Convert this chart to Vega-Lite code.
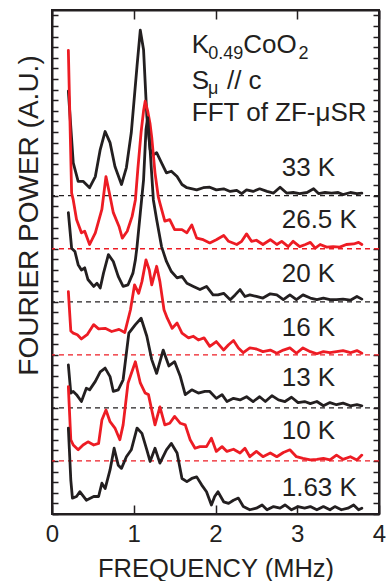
{
  "$schema": "https://vega.github.io/schema/vega-lite/v6.json",
  "width": 327,
  "height": 504,
  "autosize": {"type": "none"},
  "padding": {"left": 52, "top": 10, "right": 7, "bottom": 67},
  "config": {
    "view": {"stroke": "#231f20", "strokeWidth": 2},
    "font": "Liberation Sans",
    "axis": {
      "grid": false,
      "domainColor": "#231f20",
      "domainWidth": 2,
      "tickColor": "#231f20",
      "tickWidth": 1.5,
      "labelFont": "Liberation Sans",
      "labelFontSize": 24,
      "labelColor": "#231f20",
      "titleFont": "Liberation Sans",
      "titleFontSize": 25.5,
      "titleFontWeight": "normal",
      "titleColor": "#231f20"
    }
  },
  "datasets": {
    "curves": [
      {"t":"33 K","f":0.20,"p":7.97},{"t":"33 K","f":0.26,"p":6.62},{"t":"33 K","f":0.32,"p":6.27},{"t":"33 K","f":0.38,"p":6.27},{"t":"33 K","f":0.42,"p":6.21},{"t":"33 K","f":0.46,"p":6.15},{"t":"33 K","f":0.53,"p":6.36},{"t":"33 K","f":0.59,"p":6.87},{"t":"33 K","f":0.65,"p":7.21},{"t":"33 K","f":0.71,"p":7.00},{"t":"33 K","f":0.77,"p":6.55},{"t":"33 K","f":0.85,"p":6.21},{"t":"33 K","f":0.91,"p":6.53},{"t":"33 K","f":0.97,"p":7.19},{"t":"33 K","f":1.04,"p":8.44},{"t":"33 K","f":1.08,"p":9.12},{"t":"33 K","f":1.12,"p":8.75},{"t":"33 K","f":1.16,"p":7.50},{"t":"33 K","f":1.20,"p":6.87},{"t":"33 K","f":1.24,"p":6.77},{"t":"33 K","f":1.28,"p":6.81},{"t":"33 K","f":1.34,"p":6.62},{"t":"33 K","f":1.40,"p":6.43},{"t":"33 K","f":1.46,"p":6.46},{"t":"33 K","f":1.53,"p":6.36},{"t":"33 K","f":1.59,"p":6.21},{"t":"33 K","f":1.65,"p":6.15},{"t":"33 K","f":1.77,"p":6.11},{"t":"33 K","f":1.85,"p":6.15},{"t":"33 K","f":1.93,"p":6.16},{"t":"33 K","f":2.01,"p":6.11},{"t":"33 K","f":2.10,"p":6.13},{"t":"33 K","f":2.18,"p":6.08},{"t":"33 K","f":2.26,"p":6.10},{"t":"33 K","f":2.32,"p":6.04},{"t":"33 K","f":2.38,"p":6.11},{"t":"33 K","f":2.46,"p":6.08},{"t":"33 K","f":2.54,"p":6.13},{"t":"33 K","f":2.63,"p":6.08},{"t":"33 K","f":2.71,"p":6.05},{"t":"33 K","f":2.79,"p":6.16},{"t":"33 K","f":2.87,"p":6.05},{"t":"33 K","f":2.95,"p":6.06},{"t":"33 K","f":3.03,"p":6.04},{"t":"33 K","f":3.12,"p":6.06},{"t":"33 K","f":3.20,"p":6.13},{"t":"33 K","f":3.26,"p":6.04},{"t":"33 K","f":3.34,"p":6.06},{"t":"33 K","f":3.42,"p":6.05},{"t":"33 K","f":3.50,"p":6.06},{"t":"33 K","f":3.56,"p":6.02},{"t":"33 K","f":3.65,"p":6.06},{"t":"33 K","f":3.73,"p":6.04},{"t":"33 K","f":3.79,"p":6.05},
      {"t":"26.5 K","f":0.20,"p":8.74},{"t":"26.5 K","f":0.24,"p":6.05},{"t":"26.5 K","f":0.26,"p":5.92},{"t":"26.5 K","f":0.30,"p":5.55},{"t":"26.5 K","f":0.36,"p":5.30},{"t":"26.5 K","f":0.40,"p":5.33},{"t":"26.5 K","f":0.46,"p":5.08},{"t":"26.5 K","f":0.53,"p":5.30},{"t":"26.5 K","f":0.61,"p":5.74},{"t":"26.5 K","f":0.66,"p":6.36},{"t":"26.5 K","f":0.71,"p":5.99},{"t":"26.5 K","f":0.75,"p":5.68},{"t":"26.5 K","f":0.82,"p":5.42},{"t":"26.5 K","f":0.86,"p":5.20},{"t":"26.5 K","f":0.92,"p":5.33},{"t":"26.5 K","f":0.98,"p":5.61},{"t":"26.5 K","f":1.02,"p":5.92},{"t":"26.5 K","f":1.05,"p":6.50},{"t":"26.5 K","f":1.09,"p":7.20},{"t":"26.5 K","f":1.12,"p":7.60},{"t":"26.5 K","f":1.14,"p":7.78},{"t":"26.5 K","f":1.17,"p":7.60},{"t":"26.5 K","f":1.20,"p":7.35},{"t":"26.5 K","f":1.22,"p":7.10},{"t":"26.5 K","f":1.26,"p":6.43},{"t":"26.5 K","f":1.30,"p":5.98},{"t":"26.5 K","f":1.32,"p":5.86},{"t":"26.5 K","f":1.38,"p":5.52},{"t":"26.5 K","f":1.44,"p":5.55},{"t":"26.5 K","f":1.50,"p":5.36},{"t":"26.5 K","f":1.59,"p":5.36},{"t":"26.5 K","f":1.65,"p":5.30},{"t":"26.5 K","f":1.71,"p":5.45},{"t":"26.5 K","f":1.77,"p":5.20},{"t":"26.5 K","f":1.85,"p":5.17},{"t":"26.5 K","f":1.93,"p":5.11},{"t":"26.5 K","f":2.01,"p":5.17},{"t":"26.5 K","f":2.10,"p":5.25},{"t":"26.5 K","f":2.16,"p":5.14},{"t":"26.5 K","f":2.26,"p":5.08},{"t":"26.5 K","f":2.32,"p":5.14},{"t":"26.5 K","f":2.38,"p":5.28},{"t":"26.5 K","f":2.44,"p":5.14},{"t":"26.5 K","f":2.50,"p":5.16},{"t":"26.5 K","f":2.58,"p":5.08},{"t":"26.5 K","f":2.67,"p":5.17},{"t":"26.5 K","f":2.75,"p":5.08},{"t":"26.5 K","f":2.81,"p":5.14},{"t":"26.5 K","f":2.89,"p":5.04},{"t":"26.5 K","f":2.95,"p":5.14},{"t":"26.5 K","f":3.03,"p":5.04},{"t":"26.5 K","f":3.10,"p":5.08},{"t":"26.5 K","f":3.16,"p":5.12},{"t":"26.5 K","f":3.22,"p":5.01},{"t":"26.5 K","f":3.28,"p":5.08},{"t":"26.5 K","f":3.36,"p":5.03},{"t":"26.5 K","f":3.44,"p":5.04},{"t":"26.5 K","f":3.52,"p":5.03},{"t":"26.5 K","f":3.60,"p":5.08},{"t":"26.5 K","f":3.69,"p":5.09},{"t":"26.5 K","f":3.75,"p":5.12},{"t":"26.5 K","f":3.79,"p":5.08},
      {"t":"20 K","f":0.20,"p":5.68},{"t":"20 K","f":0.24,"p":5.01},{"t":"20 K","f":0.28,"p":4.95},{"t":"20 K","f":0.32,"p":4.70},{"t":"20 K","f":0.36,"p":4.60},{"t":"20 K","f":0.40,"p":4.64},{"t":"20 K","f":0.44,"p":4.42},{"t":"20 K","f":0.51,"p":4.29},{"t":"20 K","f":0.55,"p":4.35},{"t":"20 K","f":0.59,"p":4.26},{"t":"20 K","f":0.63,"p":4.54},{"t":"20 K","f":0.69,"p":4.89},{"t":"20 K","f":0.75,"p":4.76},{"t":"20 K","f":0.81,"p":4.48},{"t":"20 K","f":0.87,"p":4.29},{"t":"20 K","f":0.93,"p":4.32},{"t":"20 K","f":0.99,"p":4.54},{"t":"20 K","f":1.02,"p":4.79},{"t":"20 K","f":1.04,"p":5.04},{"t":"20 K","f":1.08,"p":5.67},{"t":"20 K","f":1.12,"p":6.30},{"t":"20 K","f":1.15,"p":7.25},{"t":"20 K","f":1.17,"p":7.47},{"t":"20 K","f":1.20,"p":6.87},{"t":"20 K","f":1.24,"p":5.92},{"t":"20 K","f":1.28,"p":5.55},{"t":"20 K","f":1.34,"p":5.04},{"t":"20 K","f":1.40,"p":4.76},{"t":"20 K","f":1.46,"p":4.57},{"t":"20 K","f":1.53,"p":4.45},{"t":"20 K","f":1.59,"p":4.48},{"t":"20 K","f":1.65,"p":4.35},{"t":"20 K","f":1.73,"p":4.29},{"t":"20 K","f":1.81,"p":4.23},{"t":"20 K","f":1.89,"p":4.29},{"t":"20 K","f":1.97,"p":4.13},{"t":"20 K","f":2.03,"p":4.13},{"t":"20 K","f":2.10,"p":4.16},{"t":"20 K","f":2.18,"p":4.04},{"t":"20 K","f":2.24,"p":4.13},{"t":"20 K","f":2.30,"p":4.23},{"t":"20 K","f":2.36,"p":4.10},{"t":"20 K","f":2.42,"p":4.13},{"t":"20 K","f":2.50,"p":4.10},{"t":"20 K","f":2.58,"p":4.07},{"t":"20 K","f":2.67,"p":4.15},{"t":"20 K","f":2.75,"p":4.13},{"t":"20 K","f":2.83,"p":4.04},{"t":"20 K","f":2.91,"p":4.13},{"t":"20 K","f":2.99,"p":4.04},{"t":"20 K","f":3.07,"p":4.13},{"t":"20 K","f":3.16,"p":4.07},{"t":"20 K","f":3.24,"p":4.04},{"t":"20 K","f":3.32,"p":4.07},{"t":"20 K","f":3.40,"p":4.04},{"t":"20 K","f":3.48,"p":4.04},{"t":"20 K","f":3.56,"p":4.05},{"t":"20 K","f":3.65,"p":4.03},{"t":"20 K","f":3.73,"p":4.10},{"t":"20 K","f":3.79,"p":4.05},
      {"t":"16 K","f":0.20,"p":4.19},{"t":"16 K","f":0.23,"p":3.45},{"t":"16 K","f":0.26,"p":3.41},{"t":"16 K","f":0.31,"p":3.38},{"t":"16 K","f":0.36,"p":3.30},{"t":"16 K","f":0.43,"p":3.38},{"t":"16 K","f":0.51,"p":3.57},{"t":"16 K","f":0.57,"p":3.49},{"t":"16 K","f":0.65,"p":3.50},{"t":"16 K","f":0.73,"p":3.44},{"t":"16 K","f":0.82,"p":3.48},{"t":"16 K","f":0.89,"p":3.42},{"t":"16 K","f":0.96,"p":3.85},{"t":"16 K","f":1.01,"p":4.32},{"t":"16 K","f":1.06,"p":4.16},{"t":"16 K","f":1.10,"p":4.38},{"t":"16 K","f":1.15,"p":4.79},{"t":"16 K","f":1.19,"p":4.60},{"t":"16 K","f":1.22,"p":4.32},{"t":"16 K","f":1.28,"p":4.67},{"t":"16 K","f":1.32,"p":4.38},{"t":"16 K","f":1.37,"p":3.85},{"t":"16 K","f":1.41,"p":3.69},{"t":"16 K","f":1.47,"p":3.50},{"t":"16 K","f":1.53,"p":3.60},{"t":"16 K","f":1.59,"p":3.41},{"t":"16 K","f":1.67,"p":3.32},{"t":"16 K","f":1.73,"p":3.35},{"t":"16 K","f":1.79,"p":3.28},{"t":"16 K","f":1.86,"p":3.32},{"t":"16 K","f":1.93,"p":3.16},{"t":"16 K","f":2.01,"p":3.25},{"t":"16 K","f":2.10,"p":3.09},{"t":"16 K","f":2.16,"p":3.19},{"t":"16 K","f":2.22,"p":3.27},{"t":"16 K","f":2.28,"p":3.13},{"t":"16 K","f":2.34,"p":3.04},{"t":"16 K","f":2.42,"p":3.13},{"t":"16 K","f":2.50,"p":3.11},{"t":"16 K","f":2.58,"p":3.06},{"t":"16 K","f":2.67,"p":3.09},{"t":"16 K","f":2.75,"p":3.03},{"t":"16 K","f":2.83,"p":3.09},{"t":"16 K","f":2.91,"p":3.13},{"t":"16 K","f":2.99,"p":3.03},{"t":"16 K","f":3.07,"p":3.13},{"t":"16 K","f":3.16,"p":3.06},{"t":"16 K","f":3.24,"p":3.02},{"t":"16 K","f":3.32,"p":3.06},{"t":"16 K","f":3.40,"p":3.04},{"t":"16 K","f":3.48,"p":3.06},{"t":"16 K","f":3.56,"p":3.08},{"t":"16 K","f":3.65,"p":3.04},{"t":"16 K","f":3.73,"p":3.08},{"t":"16 K","f":3.79,"p":3.03},
      {"t":"13 K","f":0.20,"p":2.81},{"t":"13 K","f":0.23,"p":2.28},{"t":"13 K","f":0.26,"p":2.31},{"t":"13 K","f":0.30,"p":2.25},{"t":"13 K","f":0.36,"p":2.12},{"t":"13 K","f":0.42,"p":2.37},{"t":"13 K","f":0.46,"p":2.34},{"t":"13 K","f":0.53,"p":2.50},{"t":"13 K","f":0.59,"p":2.68},{"t":"13 K","f":0.65,"p":2.75},{"t":"13 K","f":0.71,"p":2.59},{"t":"13 K","f":0.75,"p":2.31},{"t":"13 K","f":0.81,"p":2.34},{"t":"13 K","f":0.87,"p":2.53},{"t":"13 K","f":0.94,"p":3.41},{"t":"13 K","f":1.02,"p":3.57},{"t":"13 K","f":1.09,"p":3.69},{"t":"13 K","f":1.16,"p":3.35},{"t":"13 K","f":1.22,"p":2.91},{"t":"13 K","f":1.28,"p":2.65},{"t":"13 K","f":1.36,"p":3.09},{"t":"13 K","f":1.43,"p":2.79},{"t":"13 K","f":1.50,"p":2.87},{"t":"13 K","f":1.57,"p":2.59},{"t":"13 K","f":1.63,"p":2.25},{"t":"13 K","f":1.71,"p":2.34},{"t":"13 K","f":1.79,"p":2.28},{"t":"13 K","f":1.87,"p":2.31},{"t":"13 K","f":1.93,"p":2.31},{"t":"13 K","f":2.01,"p":2.18},{"t":"13 K","f":2.08,"p":2.25},{"t":"13 K","f":2.14,"p":2.12},{"t":"13 K","f":2.22,"p":2.18},{"t":"13 K","f":2.30,"p":2.15},{"t":"13 K","f":2.38,"p":2.21},{"t":"13 K","f":2.46,"p":2.12},{"t":"13 K","f":2.54,"p":2.21},{"t":"13 K","f":2.61,"p":2.12},{"t":"13 K","f":2.69,"p":2.23},{"t":"13 K","f":2.77,"p":2.15},{"t":"13 K","f":2.85,"p":2.12},{"t":"13 K","f":2.93,"p":2.20},{"t":"13 K","f":3.01,"p":2.10},{"t":"13 K","f":3.09,"p":2.12},{"t":"13 K","f":3.16,"p":2.08},{"t":"13 K","f":3.24,"p":2.12},{"t":"13 K","f":3.32,"p":2.04},{"t":"13 K","f":3.40,"p":2.10},{"t":"13 K","f":3.48,"p":2.06},{"t":"13 K","f":3.56,"p":2.09},{"t":"13 K","f":3.65,"p":2.04},{"t":"13 K","f":3.73,"p":2.06},{"t":"13 K","f":3.79,"p":2.04},
      {"t":"10 K","f":0.20,"p":2.40},{"t":"10 K","f":0.23,"p":1.40},{"t":"10 K","f":0.26,"p":1.30},{"t":"10 K","f":0.32,"p":1.21},{"t":"10 K","f":0.38,"p":1.30},{"t":"10 K","f":0.44,"p":1.36},{"t":"10 K","f":0.51,"p":1.30},{"t":"10 K","f":0.57,"p":1.33},{"t":"10 K","f":0.61,"p":1.77},{"t":"10 K","f":0.66,"p":1.96},{"t":"10 K","f":0.71,"p":1.74},{"t":"10 K","f":0.77,"p":1.62},{"t":"10 K","f":0.83,"p":1.40},{"t":"10 K","f":0.87,"p":1.68},{"t":"10 K","f":0.93,"p":2.47},{"t":"10 K","f":1.02,"p":2.87},{"t":"10 K","f":1.08,"p":2.47},{"t":"10 K","f":1.14,"p":2.28},{"t":"10 K","f":1.18,"p":2.25},{"t":"10 K","f":1.22,"p":1.96},{"t":"10 K","f":1.26,"p":1.68},{"t":"10 K","f":1.32,"p":2.02},{"t":"10 K","f":1.38,"p":1.68},{"t":"10 K","f":1.44,"p":1.71},{"t":"10 K","f":1.50,"p":1.84},{"t":"10 K","f":1.57,"p":1.71},{"t":"10 K","f":1.63,"p":1.68},{"t":"10 K","f":1.69,"p":1.40},{"t":"10 K","f":1.75,"p":1.24},{"t":"10 K","f":1.81,"p":1.27},{"t":"10 K","f":1.89,"p":1.27},{"t":"10 K","f":1.95,"p":1.43},{"t":"10 K","f":2.01,"p":1.18},{"t":"10 K","f":2.08,"p":1.27},{"t":"10 K","f":2.14,"p":1.18},{"t":"10 K","f":2.22,"p":1.22},{"t":"10 K","f":2.30,"p":1.15},{"t":"10 K","f":2.36,"p":1.24},{"t":"10 K","f":2.42,"p":1.08},{"t":"10 K","f":2.50,"p":1.18},{"t":"10 K","f":2.58,"p":1.08},{"t":"10 K","f":2.67,"p":1.15},{"t":"10 K","f":2.75,"p":1.08},{"t":"10 K","f":2.83,"p":1.16},{"t":"10 K","f":2.91,"p":1.21},{"t":"10 K","f":2.99,"p":1.08},{"t":"10 K","f":3.07,"p":1.05},{"t":"10 K","f":3.16,"p":1.02},{"t":"10 K","f":3.24,"p":1.03},{"t":"10 K","f":3.32,"p":1.05},{"t":"10 K","f":3.40,"p":1.02},{"t":"10 K","f":3.48,"p":1.11},{"t":"10 K","f":3.56,"p":1.03},{"t":"10 K","f":3.65,"p":1.08},{"t":"10 K","f":3.73,"p":1.02},{"t":"10 K","f":3.79,"p":1.11},
      {"t":"1.63 K","f":0.20,"p":1.62},{"t":"1.63 K","f":0.23,"p":0.64},{"t":"1.63 K","f":0.25,"p":0.30},{"t":"1.63 K","f":0.30,"p":0.33},{"t":"1.63 K","f":0.34,"p":0.42},{"t":"1.63 K","f":0.42,"p":0.26},{"t":"1.63 K","f":0.51,"p":0.33},{"t":"1.63 K","f":0.57,"p":0.33},{"t":"1.63 K","f":0.61,"p":0.58},{"t":"1.63 K","f":0.65,"p":0.48},{"t":"1.63 K","f":0.71,"p":0.83},{"t":"1.63 K","f":0.76,"p":1.24},{"t":"1.63 K","f":0.81,"p":0.92},{"t":"1.63 K","f":0.85,"p":0.86},{"t":"1.63 K","f":0.91,"p":1.08},{"t":"1.63 K","f":0.97,"p":1.21},{"t":"1.63 K","f":1.04,"p":1.62},{"t":"1.63 K","f":1.10,"p":1.52},{"t":"1.63 K","f":1.16,"p":1.21},{"t":"1.63 K","f":1.20,"p":0.99},{"t":"1.63 K","f":1.26,"p":1.24},{"t":"1.63 K","f":1.32,"p":0.96},{"t":"1.63 K","f":1.40,"p":1.21},{"t":"1.63 K","f":1.46,"p":1.33},{"t":"1.63 K","f":1.53,"p":1.15},{"t":"1.63 K","f":1.59,"p":0.67},{"t":"1.63 K","f":1.65,"p":0.61},{"t":"1.63 K","f":1.71,"p":0.67},{"t":"1.63 K","f":1.77,"p":0.70},{"t":"1.63 K","f":1.83,"p":0.55},{"t":"1.63 K","f":1.89,"p":0.42},{"t":"1.63 K","f":1.95,"p":0.17},{"t":"1.63 K","f":1.99,"p":0.33},{"t":"1.63 K","f":2.03,"p":0.42},{"t":"1.63 K","f":2.10,"p":0.23},{"t":"1.63 K","f":2.16,"p":0.20},{"t":"1.63 K","f":2.22,"p":0.26},{"t":"1.63 K","f":2.28,"p":0.30},{"t":"1.63 K","f":2.34,"p":0.14},{"t":"1.63 K","f":2.42,"p":0.08},{"t":"1.63 K","f":2.50,"p":0.11},{"t":"1.63 K","f":2.57,"p":0.17},{"t":"1.63 K","f":2.63,"p":0.08},{"t":"1.63 K","f":2.71,"p":0.14},{"t":"1.63 K","f":2.79,"p":0.11},{"t":"1.63 K","f":2.85,"p":0.17},{"t":"1.63 K","f":2.93,"p":0.08},{"t":"1.63 K","f":3.01,"p":0.14},{"t":"1.63 K","f":3.09,"p":0.11},{"t":"1.63 K","f":3.16,"p":0.14},{"t":"1.63 K","f":3.24,"p":0.08},{"t":"1.63 K","f":3.32,"p":0.14},{"t":"1.63 K","f":3.40,"p":0.08},{"t":"1.63 K","f":3.46,"p":0.14},{"t":"1.63 K","f":3.54,"p":0.08},{"t":"1.63 K","f":3.62,"p":0.11},{"t":"1.63 K","f":3.69,"p":0.17},{"t":"1.63 K","f":3.75,"p":0.08},{"t":"1.63 K","f":3.79,"p":0.11}
    ],
    "baselines": [
      {"t":"33 K","p":6},{"t":"26.5 K","p":5},{"t":"20 K","p":4},{"t":"16 K","p":3},{"t":"13 K","p":2},{"t":"10 K","p":1}
    ],
    "labels": [
      {"text":"33 K","f":2.81,"p":6.38},{"text":"26.5 K","f":2.81,"p":5.39},{"text":"20 K","f":2.81,"p":4.38},{"text":"16 K","f":2.81,"p":3.36},{"text":"13 K","f":2.81,"p":2.42},{"text":"10 K","f":2.81,"p":1.42},{"text":"1.63 K","f":2.81,"p":0.34},
      {"text":"K","f":1.71,"p":8.69},{"text":"CoO","f":2.34,"p":8.69},{"text":"S","f":1.71,"p":8.01},{"text":"// c","f":2.14,"p":8.01},{"text":"FFT of ZF-μSR","f":1.71,"p":7.40}
    ],
    "subs": [
      {"text":"0.49","f":1.912,"p":8.57},{"text":"2","f":3.015,"p":8.57},{"text":"μ","f":1.908,"p":7.91}
    ]
  },
  "layer": [
    {
      "data": {"name": "baselines"},
      "mark": {"type": "rule", "strokeDash": [5, 4], "strokeWidth": 1.3},
      "encoding": {
        "y": {"field": "p", "type": "quantitative", "scale": {"domain": [0, 9.5], "nice": false, "zero": false}, "axis": null},
        "color": {"field": "t", "type": "nominal", "legend": null, "scale": {"domain": ["33 K","26.5 K","20 K","16 K","13 K","10 K","1.63 K"], "range": ["#231f20","#ed1c24","#231f20","#ed1c24","#231f20","#ed1c24","#231f20"]}}
      }
    },
    {
      "data": {"name": "curves"},
      "mark": {"type": "line", "strokeWidth": 2.8, "strokeJoin": "round", "strokeCap": "round"},
      "encoding": {
        "x": {"field": "f", "type": "quantitative", "scale": {"domain": [0, 4], "nice": false, "zero": false},
              "axis": {"orient": "bottom", "values": [0,1,2,3,4], "tickSize": -9, "labelPadding": 17, "title": "FREQUENCY (MHz)", "titlePadding": 10, "labelFlush": false}},
        "y": {"field": "p", "type": "quantitative", "scale": {"domain": [0, 9.5], "nice": false, "zero": false},
              "axis": {"orient": "left", "values": [0,0.2,0.4,0.6,0.8,1,1.2,1.4,1.6,1.8,2,2.2,2.4,2.6,2.8,3,3.2,3.4,3.6,3.8,4,4.2,4.4,4.6,4.8,5,5.2,5.4,5.6,5.8,6,6.2,6.4,6.6,6.8,7,7.2,7.4,7.6,7.8,8,8.2,8.4,8.6,8.8,9,9.2,9.4], "tickSize": -6, "labels": false, "title": "FOURIER POWER (A.U.)", "titleFontSize": 28, "titleX": -23, "titleY": 205, "titleBaseline": "middle", "titleAngle": -90}},
        "detail": {"field": "t", "type": "nominal"},
        "color": {"field": "t", "type": "nominal", "legend": null}
      }
    },
    {
      "data": {"name": "curves"},
      "mark": {"type": "point", "opacity": 0},
      "encoding": {
        "x": {"field": "f", "type": "quantitative", "axis": {"orient": "top", "values": [0,1,2,3,4], "tickSize": -9, "labels": false, "title": null}},
        "y": {"field": "p", "type": "quantitative", "axis": {"orient": "right", "values": [0,0.2,0.4,0.6,0.8,1,1.2,1.4,1.6,1.8,2,2.2,2.4,2.6,2.8,3,3.2,3.4,3.6,3.8,4,4.2,4.4,4.6,4.8,5,5.2,5.4,5.6,5.8,6,6.2,6.4,6.6,6.8,7,7.2,7.4,7.6,7.8,8,8.2,8.4,8.6,8.8,9,9.2,9.4], "tickSize": -6, "labels": false, "title": null}}
      }
    },
    {
      "data": {"name": "labels"},
      "mark": {"type": "text", "align": "left", "baseline": "alphabetic", "font": "Liberation Sans", "fontSize": 26, "color": "#231f20"},
      "encoding": {
        "x": {"field": "f", "type": "quantitative", "axis": null},
        "y": {"field": "p", "type": "quantitative", "axis": null},
        "text": {"field": "text"}
      }
    },
    {
      "data": {"name": "subs"},
      "mark": {"type": "text", "align": "left", "baseline": "alphabetic", "font": "Liberation Sans", "fontSize": 18, "color": "#231f20"},
      "encoding": {
        "x": {"field": "f", "type": "quantitative", "axis": null},
        "y": {"field": "p", "type": "quantitative", "axis": null},
        "text": {"field": "text"}
      }
    }
  ],
  "resolve": {"axis": {"x": "independent", "y": "independent"}}
}
